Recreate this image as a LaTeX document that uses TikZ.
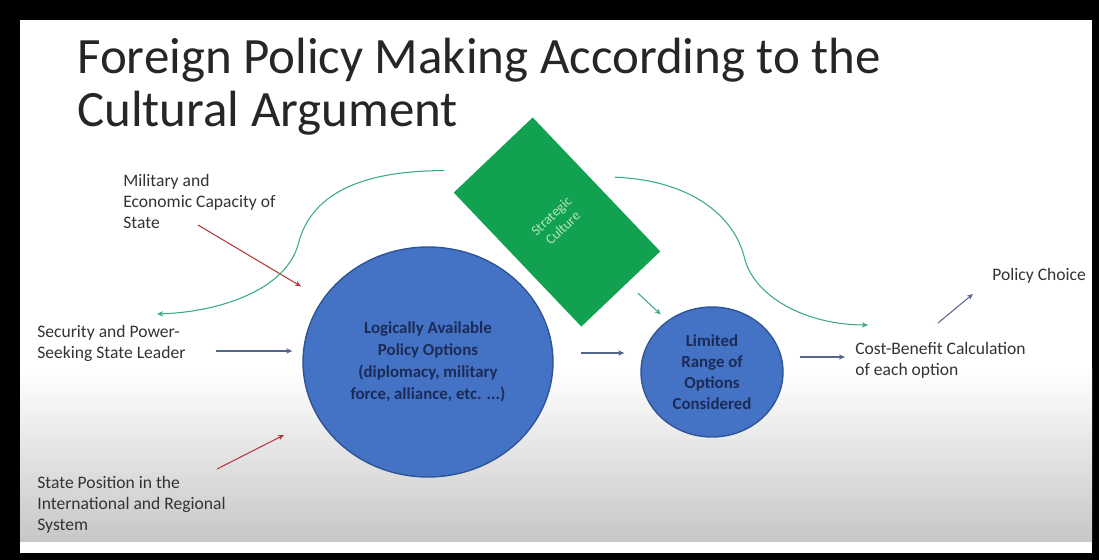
\documentclass[tikz,border=0pt]{standalone}
\usepackage{fontspec}
\setmainfont{Carlito}
\usetikzlibrary{shapes.geometric,arrows.meta,positioning}

\definecolor{optionblue}{HTML}{4472C4}
\definecolor{optionedge}{HTML}{2F5597}
\definecolor{optiontext}{HTML}{1B2B58}
\definecolor{culturegreen}{HTML}{12A150}
\definecolor{culturetext}{HTML}{B4E4C2}
\definecolor{loopgreen}{HTML}{3AAA85}
\definecolor{linkblue}{HTML}{55658A}
\definecolor{inputred}{HTML}{B8383C}
\definecolor{labelgray}{HTML}{333333}

\tikzset{
  factor/.style={anchor=north west, inner sep=0pt, align=left, text=labelgray,
    font=\fontsize{10}{12}\selectfont},
  option/.style={ellipse, fill=optionblue, draw=optionedge, line width=0.8pt,
    inner sep=0pt, align=center, text=optiontext,
    font=\bfseries\fontsize{9.6}{12.4}\selectfont},
  culturebox/.style={rectangle, fill=culturegreen, inner sep=0pt,
    minimum width=2.18cm, minimum height=3.7cm, rotate=43.6, align=center,
    text=culturetext, font=\fontsize{8}{9.5}\selectfont},
  navylink/.style={draw=linkblue, line width=0.6pt, -{Stealth[length=3.5pt,width=3pt]}},
  redlink/.style={navylink, draw=inputred},
  greenlink/.style={navylink, draw=loopgreen}
}

\begin{document}
\begin{tikzpicture}[x=0.02cm, y=-0.02cm]
% Slide frame and background
\fill[black] (0,0) rectangle (1099,560);
\fill[white] (20,20) rectangle (1092,553);
\shade[top color=white, bottom color=black!22] (20,370) rectangle (1092,541);

% Title
\node[anchor=north west, inner sep=0pt, align=left, text=black!85,
  font=\fontsize{29}{30.2}\selectfont] (title) at (77,38)
  {Foreign Policy Making According to the\\Cultural Argument};

% Options and strategic culture
\node[option, minimum width=5cm, minimum height=4.6cm] (options) at (428,362)
  {Logically Available\\Policy Options\\(diplomacy, military\\force, alliance, etc. ...)};
\node[option, minimum width=2.84cm, minimum height=2.6cm,
  font=\bfseries\fontsize{9.6}{12}\selectfont] (limited) at (712,372)
  {Limited\\Range of\\Options\\Considered};
\node[culturebox] (culture) at (557,222) {Strategic\\Culture};

% Factors and outcome labels
\node[factor] (military) at (123,174) {Military and\\Economic Capacity of\\State};
\node[factor] (leader) at (37,325) {Security and Power-\\Seeking State Leader};
\node[factor] (position) at (37,476) {State Position in the\\International and Regional\\System};
\node[factor] (cost) at (855,342) {Cost-Benefit Calculation\\of each option};
\node[factor, anchor=west] (choice) at (992,276) {Policy Choice};

% Straight arrows
\draw[redlink, shorten >=0.5cm] ([shift={(75,51)}]military.north west) -- (options);
\draw[navylink] ([shift={(179,26)}]leader.north west) -- ([shift={(-10,-11)}]options.west);
\draw[redlink, shorten >=0.76cm] ([shift={(180,-7)}]position.north west) -- (options);
\draw[navylink] ([shift={(27,-9)}]options.east) -- ([shift={(-16,-19)}]limited.west);
\draw[navylink] ([shift={(16,-15)}]limited.east) -- ([shift={(-10,15)}]cost.north west);
\draw[navylink] ([shift={(83,-19)}]cost.north west) -- ([shift={(-19,18)}]choice.west);
\draw[greenlink, shorten >=0.18cm] ([shift={(17,4)}]culture.south) -- (limited.131);

% Culture feeding back to the leader and the calculation
\draw[greenlink] ([shift={(-9,-22)}]culture.north west)
  .. controls +(-85,0) and +(12,-50) .. (298,245)
  .. controls +(-13,45) and +(63,-2) .. ([shift={(120,-11)}]leader.north west);
\draw[greenlink] ([shift={(18,-7)}]culture.east)
  .. controls +(75,3) and +(-10,-45) .. (745,260)
  .. controls +(12,40) and +(-58,0) .. ([shift={(13,-17)}]cost.north west);
\end{tikzpicture}
\end{document}
